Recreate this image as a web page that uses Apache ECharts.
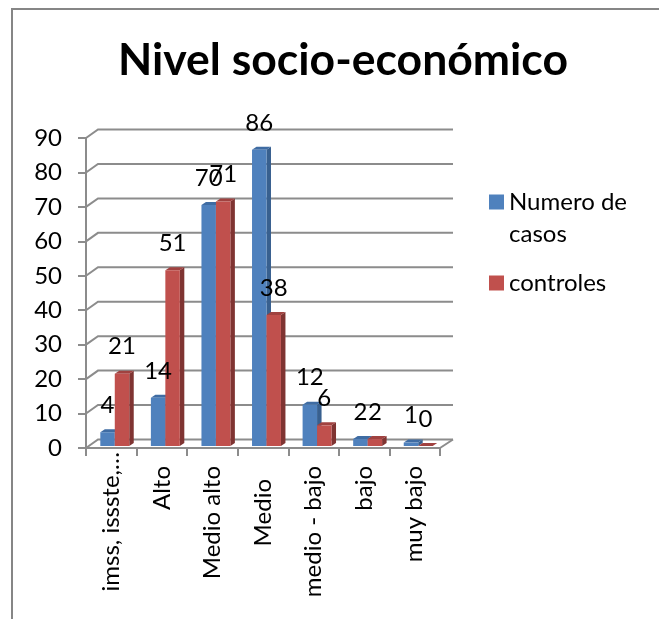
<!DOCTYPE html>
<html><head><meta charset="utf-8">
<style>html,body{margin:0;padding:0;background:#fff}#c{width:659px;height:619px}</style>
<script src="https://cdn.jsdelivr.net/npm/echarts@6/dist/echarts.min.js"></script>
</head><body><div id="c"></div>
<script>
const titleText = 'Nivel socio-económico';
const categories = ['imss, issste,…','Alto','Medio alto','Medio','medio - bajo','bajo','muy bajo'];
const labelInset = [0,14,14,27,14,14,14];
const casos = [4,14,70,86,12,2,1];
const controles = [21,51,71,38,6,2,0];
const yTicks = [0,10,20,30,40,50,60,70,80,90];
const FONT = 'Lato, Carlito, sans-serif';
const INK = '#000';
const GREY = '#8c8c8c';

function shade3d(front, side, top, dir) {
  return function (params, api) {
    const cat = api.value(0), v = api.value(1);
    const base = api.coord([cat, 0]), head = api.coord([cat, v]);
    const band = api.size([1, 0])[0];
    const w = band * 0.286, sh = band * 0.069;
    const x0 = dir < 0 ? base[0] + sh - w : base[0] + sh;
    const yb = base[1] - 2, yt = head[1] - 2;
    const dx = 4.5, dy = 3;
    return { type: 'group', children: [
      { type:'polygon', shape:{points:[[x0+w,yb],[x0+w+dx,yb-dy],[x0+w+dx,yt-dy],[x0+w,yt]]}, style:{fill:side} },
      { type:'polygon', shape:{points:[[x0,yt],[x0+dx,yt-dy],[x0+w+dx,yt-dy],[x0+w,yt]]}, style:{fill:top} },
      { type:'rect', shape:{x:x0,y:yt,width:w,height:yb-yt}, style:{fill:front} },
      { type:'text', z2:100, style:{ text:String(v), x:x0+w/2, y:yt-27, align:'center', verticalAlign:'middle',
        fontFamily:FONT, fontSize:24, fill:INK } }
    ]};
  };
}

const chart = echarts.init(document.getElementById('c'));
chart.setOption({
  animation:false,
  backgroundColor:'#fff',
  title:{ text:titleText, left:338, top:33, textAlign:'center',
    textStyle:{ fontFamily:FONT, fontWeight:'bold', fontSize:44.5, color:INK } },
  legend:{ orient:'vertical', left:489, top:154, padding:0, itemGap:17, itemWidth:15, itemHeight:15, icon:'rect',
    selectedMode:false,
    formatter:n=>n.includes(' de ') ? ' \n'+n.replace(' de ',' de\n') : n,
    textStyle:{ fontFamily:FONT, fontSize:24, color:INK, lineHeight:32 },
    data:['Numero de casos','controles'] },
  grid:{ left:86, top:138, width:354, height:310 },
  xAxis:{ type:'category', data:categories.map((c,i)=>({value:c, textStyle:{padding:[0,labelInset[i],0,0]}})),
    axisLine:{lineStyle:{color:GREY,width:2}},
    axisTick:{show:true,alignWithLabel:false,length:8,lineStyle:{color:GREY,width:2}},
    axisLabel:{ rotate:90, interval:0, margin:4, hideOverlap:false, fontFamily:FONT, fontSize:24, color:INK } },
  yAxis:{ type:'value', min:0, max:90, interval:10,
    axisLine:{show:true,lineStyle:{color:GREY,width:2}},
    axisTick:{show:true,length:8,lineStyle:{color:GREY,width:2}},
    splitLine:{show:false},
    axisLabel:{ margin:24, fontFamily:FONT, fontSize:24, color:INK } },
  graphic:[
    {type:'polyline', silent:true, shape:{points:[[12,625],[12,9],[665,9]]}, style:{fill:'none',stroke:'#868686',lineWidth:2}}
  ],
  series:[
    { type:'custom', name:'pared', silent:true, z:1, data:yTicks.map(v=>[0,v]), encode:{x:0,y:1},
      renderItem(params, api){
        const cs = params.coordSys, v = api.value(1);
        const y = api.coord([0,v])[1];
        const lx = cs.x, rx = cs.x + cs.width;
        const pts = [[lx,y],[lx+12,y-8.5],[rx+13,y-8.5]];
        const kids = [{type:'polyline',shape:{points:pts},style:{fill:'none',stroke:GREY,lineWidth:2}}];
        if (v===0) kids.push({type:'line',shape:{x1:rx,y1:y,x2:rx+13,y2:y-8.5},style:{stroke:GREY,lineWidth:2}});
        return {type:'group',children:kids};
      } },
    { type:'custom', name:'Numero de casos', z:2, itemStyle:{color:'#4F81BD'}, encode:{x:0,y:1},
      data:casos.map((v,i)=>[i,v]), renderItem:shade3d('#4F81BD','#38608F','#3F6CA3',-1) },
    { type:'custom', name:'controles', z:2, itemStyle:{color:'#C0504D'}, encode:{x:0,y:1},
      data:controles.map((v,i)=>[i,v]), renderItem:shade3d('#C0504D','#7F3432','#A04240',1) }
  ]
});
</script></body></html>
